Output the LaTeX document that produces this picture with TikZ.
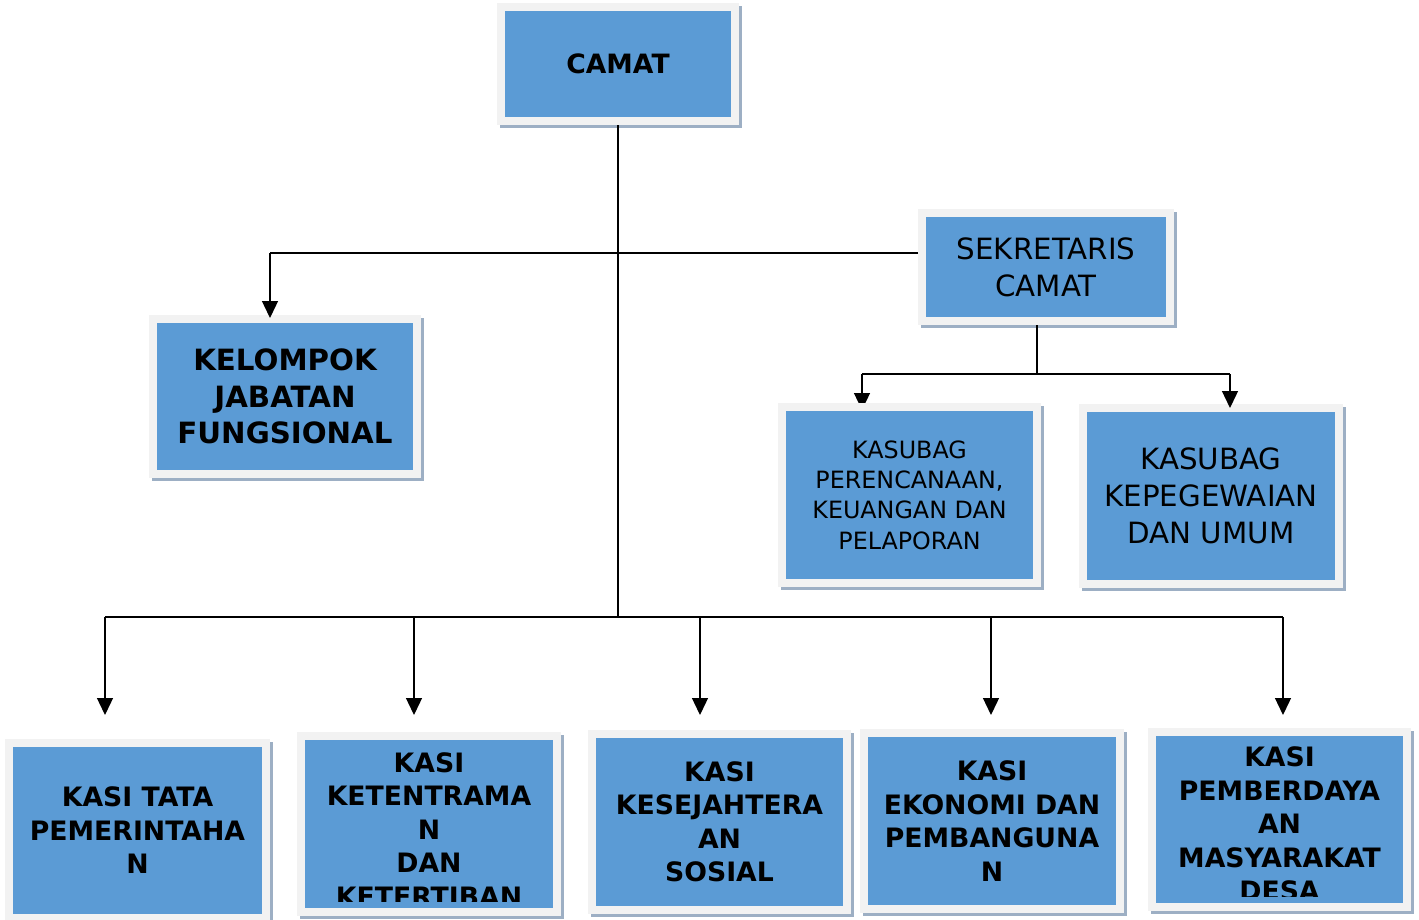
\documentclass[tikz,border=0pt]{standalone}
\usepackage{fontspec}
\setmainfont{DejaVu Sans}
\usetikzlibrary{shadows,arrows.meta,backgrounds}
\definecolor{boxblue}{HTML}{5B9BD5}
\definecolor{framegray}{HTML}{F2F2F2}
\definecolor{shadowc}{HTML}{9DAFC4}
\tikzset{
  orgbox/.style={fill=boxblue, draw=framegray, line width=8pt, inner sep=0pt, align=center,
    drop shadow={shadow xshift=3pt, shadow yshift=-3pt, fill=shadowc, draw=shadowc, line width=8pt, opacity=1}},
  boxtext/.style={inner sep=0pt, align=center},
  conn/.style={line width=1.3pt, draw=black},
  arr/.style={conn, -{Triangle[length=17pt,width=16pt]}},
  fbold/.style={font=\fontsize{26.7}{33.5}\selectfont\bfseries},
  fbig/.style={font=\fontsize{29.3}{36.8}\selectfont},
  fbigb/.style={font=\fontsize{29.3}{36.5}\selectfont\bfseries},
  fsmall/.style={font=\fontsize{23.8}{30.4}\selectfont},
}
\begin{document}
\begin{tikzpicture}[x=1pt,y=-1pt]
\useasboundingbox (0,0) rectangle (1419,919);
\begin{scope}[on background layer]
  \fill[white] (0,0) rectangle (1419,919);
\end{scope}

% boxes (sizes = blue area + 8)
\node[orgbox, minimum width=234pt, minimum height=114pt, font=\fontsize{26.6}{33}\selectfont\bfseries] (camat) at (618,64) {CAMAT};
\node[orgbox, fbig, minimum width=248pt, minimum height=108pt] (sek) at (1046,267) {SEKRETARIS\\CAMAT};
\node[orgbox, fbigb, minimum width=264pt, minimum height=155pt] (kel) at (285,396.5) {KELOMPOK\\JABATAN\\FUNGSIONAL};
\node[orgbox, fsmall, minimum width=255pt, minimum height=176pt] (kperen) at (909.5,495) {KASUBAG\\PERENCANAAN,\\KEUANGAN DAN\\PELAPORAN};
\node[orgbox, fbig, minimum width=256pt, minimum height=176pt] (kpeg) at (1211,496) {KASUBAG\\KEPEGEWAIAN\\DAN UMUM};

\node[orgbox, fbold, minimum width=257pt, minimum height=175pt] (kasi1) at (137.5,830.5) {KASI TATA\\PEMERINTAHA\\N};
\node[orgbox, minimum width=256pt, minimum height=176pt] (kasi2) at (429,824) {};
\node[boxtext, fbold] (kasi2t) at ([yshift=-5.5pt]kasi2.center) {KASI\\KETENTRAMA\\N\\DAN\\KETERTIBAN};
\fill[boxblue] (305,902) rectangle (553,908);
\node[orgbox, fbold, minimum width=255pt, minimum height=176pt] (kasi3) at (719.5,822) {KASI\\KESEJAHTERA\\AN\\SOSIAL};
\node[orgbox, fbold, minimum width=256pt, minimum height=176pt] (kasi4) at (992,821) {KASI\\EKONOMI DAN\\PEMBANGUNA\\N};
\node[orgbox, minimum width=255pt, minimum height=175pt] (kasi5) at (1279.5,819.5) {};
\node[boxtext, fbold] (kasi5t) at ([yshift=-4.5pt]kasi5.center) {KASI\\PEMBERDAYA\\AN\\MASYARAKAT\\DESA};
\fill[boxblue] (1156,897) rectangle (1403,903);

% junction coordinates
\coordinate (busB) at (618,617);
\coordinate (jK) at (270,253);
\coordinate (jS) at (1037,374);
\coordinate (jP) at (862,374);
\coordinate (jG) at (1230,374);
\coordinate (a1) at (105,715);
\coordinate (a2) at (414,715);
\coordinate (a3) at (700,715);
\coordinate (a4) at (991,715);
\coordinate (a5) at (1283,715);

% connectors
\begin{scope}[on background layer]
  \draw[arr, shorten >=-7pt] (jP) -- (jP |- kperen.north);
\end{scope}
\draw[conn] (camat.south) -- (busB);
\draw[conn] (jK -| sek.west) -- (jK);
\draw[arr, shorten >=-3pt] (jK) -- (jK |- kel.north);
\draw[conn] (jS |- sek.south) -- (jS);
\draw[conn] (jP) -- (jG);
\draw[arr, shorten >=-4pt] (jG) -- (jG |- kpeg.north);
\draw[conn] (a1 |- busB) -- (a5 |- busB);
\draw[arr] (a1 |- busB) -- (a1);
\draw[arr] (a2 |- busB) -- (a2);
\draw[arr] (a3 |- busB) -- (a3);
\draw[arr] (a4 |- busB) -- (a4);
\draw[arr] (a5 |- busB) -- (a5);
\end{tikzpicture}
\end{document}
